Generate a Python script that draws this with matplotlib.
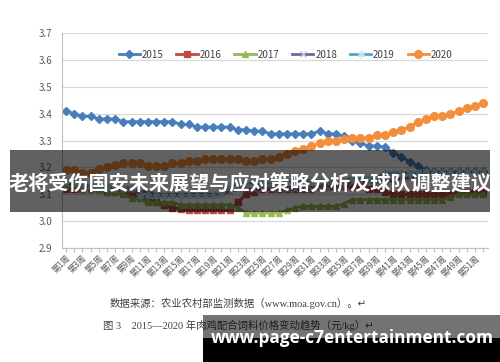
import matplotlib
matplotlib.use("Agg")
import matplotlib.pyplot as plt
from matplotlib.patches import Rectangle

plt.rcParams['font.family'] = ['Noto Sans CJK SC', 'DejaVu Sans']

weeks = list(range(1, 53))
week_labels = [f"第{w}周" if w % 2 == 1 else "" for w in weeks]

y2015 = [3.41, 3.40, 3.39, 3.39, 3.38, 3.38, 3.38, 3.37, 3.37, 3.37,
         3.37, 3.37, 3.37, 3.37, 3.36, 3.36, 3.35, 3.35, 3.35, 3.35,
         3.35, 3.34, 3.34, 3.335, 3.335, 3.325, 3.325, 3.325, 3.325, 3.325,
         3.325, 3.335, 3.325, 3.325, 3.315, 3.30, 3.29, 3.28, 3.28, 3.275,
         3.255, 3.24, 3.22, 3.205, 3.19, 3.185, 3.185, 3.185, 3.185, 3.185,
         3.185, 3.185]
y2016 = [3.12, 3.12, 3.12, 3.12, 3.12, 3.11, 3.11, 3.11, 3.10, 3.09,
         3.08, 3.07, 3.06, 3.05, 3.045, 3.04, 3.04, 3.04, 3.04, 3.04,
         3.04, 3.07, 3.10, 3.11, 3.12, 3.12, 3.12, 3.12, 3.12, 3.12,
         3.12, 3.13, 3.13, 3.13, 3.13, 3.13, 3.13, 3.12, 3.12, 3.11,
         3.10, 3.10, 3.10, 3.10, 3.10, 3.10, 3.10, 3.10, 3.11, 3.11,
         3.11, 3.11]
y2017 = [3.13, 3.13, 3.12, 3.12, 3.12, 3.11, 3.11, 3.10, 3.085, 3.085,
         3.07, 3.07, 3.07, 3.07, 3.06, 3.06, 3.06, 3.06, 3.06, 3.06,
         3.06, 3.05, 3.03, 3.03, 3.03, 3.03, 3.03, 3.04, 3.05, 3.055,
         3.055, 3.055, 3.055, 3.055, 3.065, 3.08, 3.08, 3.08, 3.08, 3.08,
         3.08, 3.08, 3.08, 3.08, 3.08, 3.08, 3.08, 3.09, 3.10, 3.10,
         3.10, 3.10]
y2018 = [3.14, 3.14, 3.13, 3.13, 3.13, 3.13, 3.12, 3.12, 3.12, 3.11,
         3.11, 3.10, 3.10, 3.10, 3.10, 3.10, 3.10, 3.10, 3.10, 3.10,
         3.11, 3.12, 3.12, 3.12, 3.12, 3.12, 3.12, 3.12, 3.12, 3.12,
         3.12, 3.12, 3.12, 3.12, 3.13, 3.145, 3.145, 3.145, 3.145, 3.15,
         3.15, 3.16, 3.16, 3.17, 3.18, 3.18, 3.18, 3.18, 3.18, 3.18,
         3.18, 3.18]
y2019 = [3.15, 3.14, 3.14, 3.13, 3.13, 3.125, 3.125, 3.125, 3.125, 3.095,
         3.095, 3.095, 3.095, 3.095, 3.095, 3.095, 3.095, 3.095, 3.095, 3.10,
         3.125, 3.14, 3.14, 3.14, 3.14, 3.14, 3.14, 3.15, 3.15, 3.15,
         3.15, 3.15, 3.15, 3.15, 3.15, 3.16, 3.16, 3.16, 3.16, 3.18,
         3.18, 3.18, 3.18, 3.18, 3.185, 3.185, 3.185, 3.185, 3.185, 3.185,
         3.185, 3.185]
y2020 = [3.19, 3.19, 3.18, 3.18, 3.195, 3.20, 3.21, 3.215, 3.215, 3.215,
         3.205, 3.205, 3.205, 3.215, 3.215, 3.225, 3.225, 3.23, 3.23, 3.23,
         3.23, 3.23, 3.225, 3.225, 3.23, 3.23, 3.24, 3.25, 3.26, 3.27,
         3.28, 3.29, 3.30, 3.30, 3.305, 3.31, 3.31, 3.31, 3.32, 3.32,
         3.33, 3.34, 3.35, 3.37, 3.38, 3.39, 3.39, 3.40, 3.41, 3.42,
         3.43, 3.44]

series = [
    ("2015", y2015, "#4A7EBB", "D", 4, "#4A7EBB"),
    ("2016", y2016, "#BE4B48", "s", 4, "#BE4B48"),
    ("2017", y2017, "#98B954", "^", 5, "#98B954"),
    ("2018", y2018, "#7D60A0", "x", 4.5, "#C9C0D8"),
    ("2019", y2019, "#46AAC5", (6, 2, 0), 5.5, "#BFE2EC"),
    ("2020", y2020, "#F28E3C", "o", 5.5, "#F28E3C"),
]

W, H = 500, 362
fig = plt.figure(figsize=(W / 100, H / 100), dpi=100)
ax = fig.add_axes([62 / W, 1 - 248 / H, 426 / W, 215 / H])

for name, ys, col, mk, ms, mec in series:
    ax.plot(weeks, ys, color=col, lw=2, marker=mk, ms=ms,
            markerfacecolor=col, markeredgecolor=mec, mew=1, label=name)

ax.set_xlim(0.5, 52.6)
ax.set_ylim(2.9, 3.7)
ax.set_yticks([2.9, 3.0, 3.1, 3.2, 3.3, 3.4, 3.5, 3.6, 3.7])
ax.set_yticklabels(["2.9", "3.0", "3.1", "3.2", "3.3", "3.4", "3.5", "3.6", "3.7"])
ax.set_xticks(weeks)
ax.set_xticklabels(week_labels, rotation=45, ha="right", rotation_mode="anchor")
ax.tick_params(axis="y", length=0, labelsize=7, labelcolor="#595959", pad=7)
ax.tick_params(axis="x", length=3, color="#BFBFBF", labelsize=6,
               labelcolor="#595959", pad=1)
ax.grid(axis="y", color="#D9D9D9", lw=0.9)
ax.set_axisbelow(True)
for s in ["top", "right"]:
    ax.spines[s].set_visible(False)
ax.spines["left"].set_color("#BFBFBF")
ax.spines["bottom"].set_color("#BFBFBF")

ax.legend(loc="center", bbox_to_anchor=(0.525, 0.9), ncol=6, frameon=False,
          fontsize=7, handlelength=2.2, columnspacing=1.3, handletextpad=0.2,
          labelcolor="#404040")


def px(x, y):
    return x / W, 1 - y / H


cap_font = ['Liberation Serif', 'Noto Sans CJK SC', 'DejaVu Sans']
fig.text(*px(110, 303), "数据来源：农业农村部监测数据（www.moa.gov.cn）。↵",
         family=cap_font, fontsize=7.5, color="#404040", va="center", ha="left")
fig.text(*px(103, 325), "图 3    2015—2020 年肉鸡配合饲料价格变动趋势（元/kg）↵",
         family=cap_font, fontsize=7.5, color="#404040", va="center", ha="left")

# overlay band with title
fig.patches.append(Rectangle(px(10, 212), 480 / W, 62 / H, transform=fig.transFigure,
                             facecolor="black", alpha=0.62, zorder=5))
fig.text(*px(250, 184), "老将受伤国安未来展望与应对策略分析及球队调整建议",
         fontsize=14.5, fontweight="bold", color="white", ha="center", va="center",
         zorder=6)

# watermark box bottom right
fig.patches.append(Rectangle(px(203, 338), 297 / W, 23 / H, transform=fig.transFigure,
                             facecolor="black", alpha=0.55, zorder=5))
fig.patches.append(Rectangle(px(203, 362), 297 / W, 24 / H, transform=fig.transFigure,
                             facecolor="black", zorder=5))
fig.text(*px(352, 338), "www.page-c7entertainment.com", family="Open Sans",
         fontsize=12.4, fontweight="bold", color="white", ha="center", va="center",
         zorder=6)

fig.savefig("out.png", dpi=100)
